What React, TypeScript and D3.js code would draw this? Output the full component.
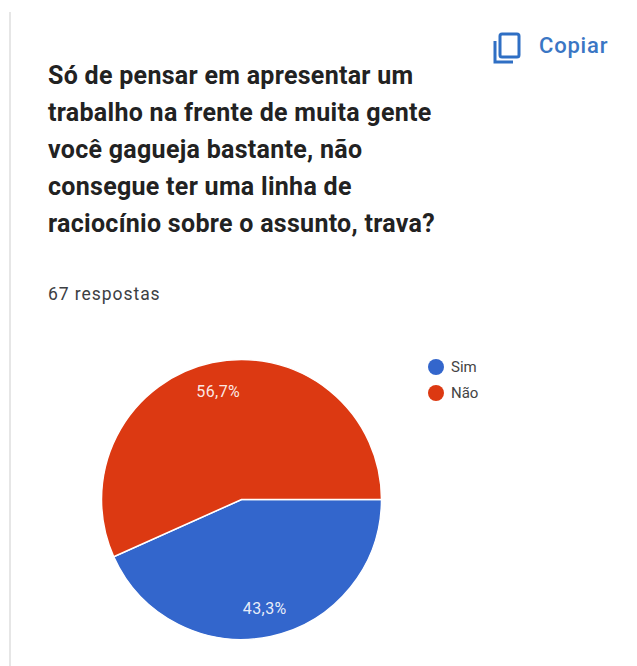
import React from "react";
import * as d3 from "d3";

const categories = ["Sim", "Não"];
const values = [43.3, 56.7];
const labels = ["43,3%", "56,7%"];
const colors = ["#3366cc", "#dc3912"];
const titleLines = [
  "Só de pensar em apresentar um",
  "trabalho na frente de muita gente",
  "você gagueja bastante, não",
  "consegue ter uma linha de",
  "raciocínio sobre o assunto, trava?",
];
const font = "Roboto, sans-serif";

export default function App() {
  const cx = 241.5, cy = 499.5, r = 140;
  // Slices run clockwise from 3 o'clock, the first one below the horizontal.
  const pie = d3.pie<number>().sort(null).startAngle(Math.PI / 2).endAngle(Math.PI / 2 + 2 * Math.PI);
  const arcs = pie(values);
  const arc = d3.arc<d3.PieArcDatum<number>>().innerRadius(0).outerRadius(r);
  const labelArc = d3.arc<d3.PieArcDatum<number>>().innerRadius(r * 0.795).outerRadius(r * 0.795);
  return (
    <svg width={637} height={666} style={{ position: "fixed", left: 0, top: 0, background: "#fff" }}>
      <line x1={10} x2={10} y1={12} y2={666} stroke="#e6e6e6" strokeWidth={2} />
      <g fill="none" stroke="#2f6fc4" strokeWidth={3}>
        <rect x={500} y={34} width={19} height={23} rx={2} />
        <path d="M495 41 V62 H513" />
      </g>
      <text x={539} y={53} fontFamily={font} fontSize={22} fontWeight={500} fill="#3a76c4" letterSpacing={0.8}>Copiar</text>
      {titleLines.map((t, i) => (
        <text key={t} x={48} y={84 + i * 37} fontFamily={font} fontSize={25} fontWeight={700} fill="#222" letterSpacing={0.29}>{t}</text>
      ))}
      <text x={48} y={300} fontFamily={font} fontSize={17.5} fill="#3c4043" letterSpacing={0.95}>67 respostas</text>
      {arcs.map((a, i) => (
        <path key={categories[i]} d={arc(a)!} transform={`translate(${cx},${cy})`} fill={colors[i]} stroke="#fff" strokeWidth={1.5} />
      ))}
      {arcs.map((a, i) => {
        const [x, y] = labelArc.centroid(a);
        return (
          <text key={labels[i]} x={cx + x} y={cy + y + 6} textAnchor="middle" fontFamily={font} fontSize={16} fill="#fff" fillOpacity={0.9} letterSpacing={0.4}>{labels[i]}</text>
        );
      })}
      {categories.map((c, i) => (
        <g key={c}>
          <circle cx={436} cy={367 + i * 26} r={8} fill={colors[i]} />
          <text x={451} y={372 + i * 26} fontFamily={font} fontSize={15} fill="#444">{c}</text>
        </g>
      ))}
    </svg>
  );
}
